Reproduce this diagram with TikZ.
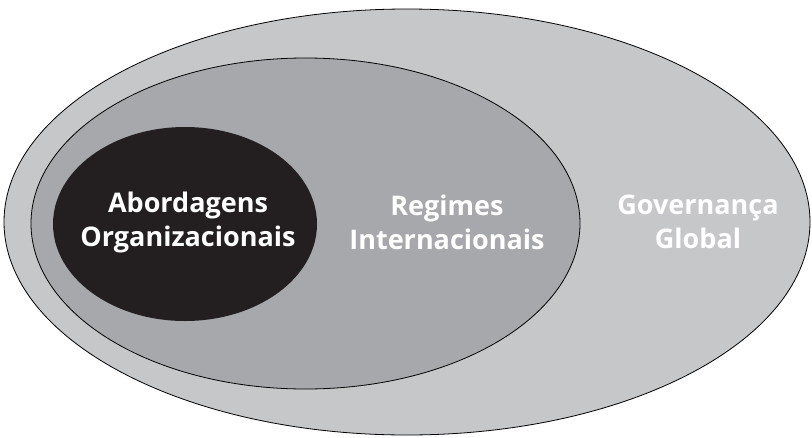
\documentclass[tikz,border=0pt]{standalone}
\usepackage{fontspec}
\setmainfont{Open Sans}
\usetikzlibrary{shapes.geometric}

\definecolor{outergray}{HTML}{C6C7C9}
\definecolor{midgray}{HTML}{A7A8AB}
\definecolor{coregray}{HTML}{231F20}

\begin{document}
\begin{tikzpicture}[x=1pt,y=-1pt,
   ring/.style={ellipse,inner sep=0pt,draw=black,line width=.8pt},
   txt/.style={align=center,text=white,font=\bfseries\fontsize{27}{34}\selectfont}]
   \useasboundingbox (0,0) rectangle (812,437);

   \node[ring,fill=outergray,minimum width=806pt,minimum height=426pt] (gov) at (407,222) {};
   \node[ring,fill=midgray,minimum width=549pt,minimum height=331pt] (reg) at (305.5,223.5) {};
   \node[ellipse,inner sep=0pt,fill=coregray,minimum width=264pt,minimum height=194pt] (org) at (185,224) {};

   \node[txt] (orgtxt) at (188,222) {Abordagens\\Organizacionais};
   \node[txt] (regtxt) at (447,222) {Regimes\\Internacionais};
   \node[txt] (govtxt) at (698,222) {Governança\\Global};
\end{tikzpicture}
\end{document}
